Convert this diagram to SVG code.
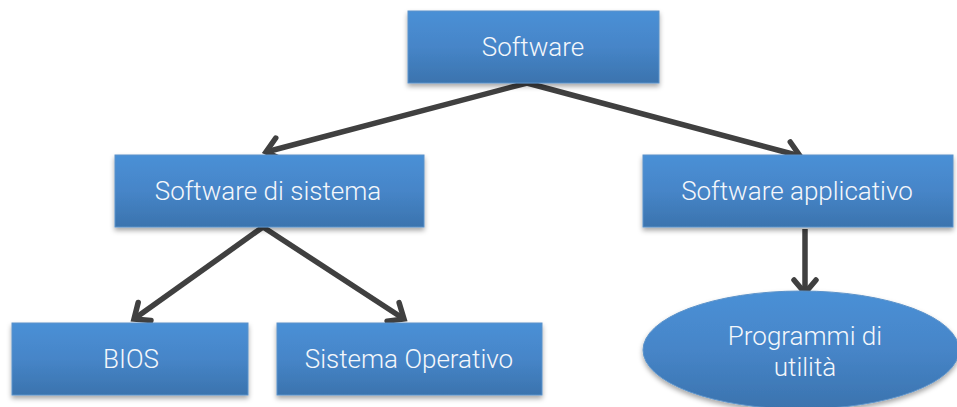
<svg xmlns="http://www.w3.org/2000/svg" width="957" height="407" viewBox="0 0 957 407">
<defs>
<linearGradient id="g" x1="0" y1="0" x2="0" y2="1">
<stop offset="0" stop-color="#4a90d6"/>
<stop offset="0.5" stop-color="#4685c8"/>
<stop offset="1" stop-color="#3b73ae"/>
</linearGradient>
<filter id="sh" x="-10%" y="-10%" width="120%" height="130%">
<feDropShadow dx="0" dy="3" stdDeviation="2.5" flood-color="#000" flood-opacity="0.35"/>
</filter>
<marker id="ah" viewBox="0 0 12 12" refX="10" refY="6" markerWidth="12" markerHeight="12" markerUnits="userSpaceOnUse" orient="auto" overflow="visible">
<path d="M-3,-5 L10,6 L-3,17" fill="none" stroke="#404040" stroke-width="5.5" stroke-linecap="round" stroke-linejoin="miter"/>
</marker>
</defs>
<style>
.n{fill:url(#g);stroke:#5b92c9;stroke-width:1;filter:url(#sh)}
.t{font-family:Roboto,"Liberation Sans",sans-serif;font-weight:300;font-size:26px;fill:#f4f7fb;text-anchor:middle}
.c{fill:none;stroke:#404040;stroke-width:5.5;marker-end:url(#ah)}
</style>
<g id="connectors">
<path class="c" d="M527,83 L266,152"/>
<path class="c" d="M527,83 L800,156"/>
<path class="c" d="M263,227 L134,319"/>
<path class="c" d="M263,227 L404,319"/>
<path class="c" d="M805,229 L805,293"/>
</g>
<g id="software"><rect class="n" x="408" y="11" width="251" height="72"/><text class="t" x="533" y="56">Software</text></g>
<g id="sistema"><rect class="n" x="115" y="155" width="309" height="72"/><text class="t" x="268" y="200">Software di sistema</text></g>
<g id="applicativo"><rect class="n" x="643" y="155" width="310" height="72"/><text class="t" x="797" y="200">Software applicativo</text></g>
<g id="bios"><rect class="n" x="12" y="323" width="236" height="72"/><text class="t" x="131" y="368">BIOS</text></g>
<g id="so"><rect class="n" x="277" y="323" width="265" height="72"/><text class="t" x="409" y="368">Sistema Operativo</text></g>
<g id="utilita"><ellipse class="n" cx="801" cy="350" rx="158" ry="59"/><text class="t" x="805" y="345">Programmi di</text><text class="t" x="805" y="376">utilità</text></g>
</svg>
